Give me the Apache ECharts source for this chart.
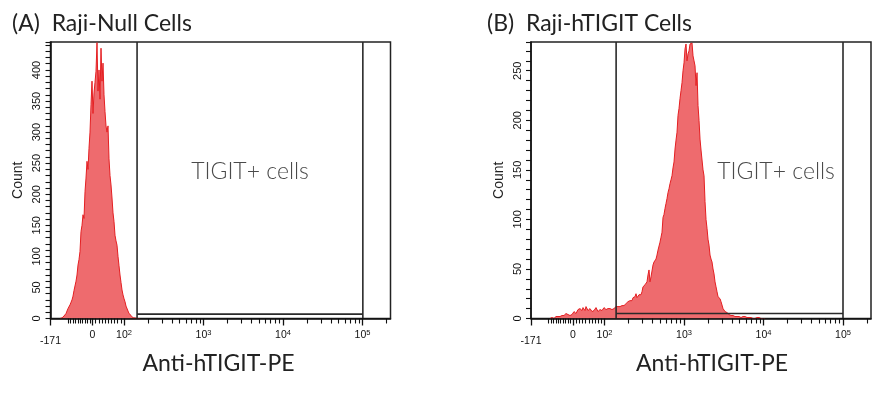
<!DOCTYPE html>
<html><head><meta charset="utf-8">
<script src="https://cdn.jsdelivr.net/npm/echarts@6/dist/echarts.min.js"></script>
<style>html,body{margin:0;padding:0;background:#fff}#c{width:895px;height:394px}</style>
</head><body><div id="c"></div>
<script>
// ---------- texts ----------
const panelTitles = ['(A)  Raji-Null Cells', '(B)  Raji-hTIGIT Cells'];
const gateLabel = 'TIGIT+ cells';
const xAxisName = 'Anti-hTIGIT-PE';
const yAxisName = 'Count';

// ---------- x axis (biexponential display of PE fluorescence) ----------
const xMinValue = -171;
const xMaxValue = 225000;
const xMajorValues = [-171, 0, 100, 1000, 10000, 100000];
const xMajorLabels = ['-171', '0', '10|2', '10|3', '10|4', '10|5'];
const xMinorValues = [-100, -90, -80, -70, -60, -50, -40, -30, -20, -10,
  10, 20, 30, 40, 50, 60, 70, 80, 90,
  200, 300, 400, 500, 600, 700, 800, 900,
  2000, 3000, 4000, 5000, 6000, 7000, 8000, 9000,
  20000, 30000, 40000, 50000, 60000, 70000, 80000, 90000, 200000];
// linear-region anchors of the display transform (value -> display decade units)
const linAnchorValues = [-171, 0, 100];
const linAnchorDisplay = [1.0755, 1.604, 2];

// ---------- y axes ----------
const yMaxA = 445, yMaxB = 279;
const yLabelsA = [0, 50, 100, 150, 200, 250, 300, 350, 400];
const yLabelsB = [0, 50, 100, 150, 200, 250];

// ---------- gates ----------
const gateLowA = 146, gateHighA = 101000, gateBarA = 7;
const gateLowB = 140, gateHighB = 100000, gateBarB = 5;

// ---------- histograms (display bins, width in decade units) ----------
const binWidth = 0.01258;
const histStartA = 1.195;
const histCountsA = [
  0,0,1,2,4,5,8,12,16,18,
  22,26,30,36,45,48,60,70,86,95,
  108,140,150,167,161,204,226,253,240,274,
  300,344,382,330,363,380,398,444,366,400,
  353,435,382,411,360,333,310,300,310,257,
  230,215,194,170,156,134,125,118,100,85,
  70,58,46,38,32,27,20,19,12,8,
  6,5,3,1,2,1,0,0,1,0,
  0];
const histStartB = 1.3145;
const histCountsB = [
  0,0,1,1,0,1,2,1,2,3,
  2,4,3,5,3,4,5,6,4,5,
  3,2,4,6,7,7,5,7,9,8,
  10,9,8,11,9,8,12,10,8,9,
  10,8,7,9,8,8,11,9,7,8,
  9,7,8,10,11,11,9,8,10,9,
  10,11,9,11,10,10,12,11,12,13,
  12,12,13,12,13,13,15,16,17,16,
  18,19,18,21,20,22,25,21,23,24,
  26,24,27,32,31,34,35,37,44,49,
  37,42,44,54,57,55,60,64,69,71,
  77,82,87,102,105,111,116,121,127,131,
  136,140,144,152,158,171,180,188,205,212,
  222,230,238,250,258,272,277,260,267,270,
  277,278,278,265,260,255,235,248,215,200,
  181,170,168,150,144,118,100,91,80,74,
  64,60,57,50,45,37,32,27,22,20,
  20,17,15,10,9,7,6,6,5,4,
  4,3,4,3,3,2,3,2,3,2,
  2,1,2,2,1,2,1,1,1,1,
  0,1,1,0,1,0,0,1,0,1,
  0,0,1,0,0,0];

// ---------- display transform ----------
function toDisplay(v) {
  if (v >= 100) return Math.log10(v);
  for (let i = 0; i < linAnchorValues.length - 1; i++) {
    const a = linAnchorValues[i], b = linAnchorValues[i + 1];
    if (v <= b || i === linAnchorValues.length - 2) {
      const t = (v - a) / (b - a);
      return linAnchorDisplay[i] + t * (linAnchorDisplay[i + 1] - linAnchorDisplay[i]);
    }
  }
}
const xMin = toDisplay(xMinValue), xMax = toDisplay(xMaxValue);
const majorPos = xMajorValues.map(toDisplay);
const minorPos = xMinorValues.map(toDisplay);

function labelFor(val) {
  let best = 0, bd = 1e9;
  majorPos.forEach((p, i) => { const d = Math.abs(p - val); if (d < bd) { bd = d; best = i; } });
  const s = xMajorLabels[best];
  if (best === 0) return '{low|' + s + '}';
  if (s.indexOf('|') >= 0) { const [b, e] = s.split('|'); return '{b|' + b + '}{s|' + e + '}'; }
  return '{p|' + s + '}';
}

const tickFont = '"Liberation Sans", Arial, sans-serif';
const rich = {
  b: { fontSize: 10.5, lineHeight: 12, verticalAlign: 'bottom', fontFamily: tickFont, color: '#111' },
  s: { fontSize: 7.5, lineHeight: 8, verticalAlign: 'top', padding: [0, 0, 9, 0], fontFamily: tickFont, color: '#111' },
  p: { fontSize: 10.5, lineHeight: 12, verticalAlign: 'bottom', padding: [5, 0, 0, 0], fontFamily: tickFont, color: '#111' },
  low: { fontSize: 10.5, lineHeight: 12, padding: [13.5, 0, 0, 0], fontFamily: tickFont, color: '#111' }
};

const grids = [
  { left: 50.5, top: 42, width: 340, height: 276.5 },
  { left: 531, top: 42, width: 340, height: 276.5 }
];
const panels = [
  { yMax: yMaxA, yLabels: yLabelsA, start: histStartA, counts: histCountsA, gL: gateLowA, gH: gateHighA, gB: gateBarA, namePad: [0, 4, 0, 0] },
  { yMax: yMaxB, yLabels: yLabelsB, start: histStartB, counts: histCountsB, gL: gateLowB, gH: gateHighB, gB: gateBarB, namePad: [0, 0, 0, 22] }
];

const xAxes = [], yAxes = [], series = [];
panels.forEach((pn, i) => {
  grids[i].show = true; grids[i].borderColor = '#222'; grids[i].borderWidth = 1.5;
  xAxes.push({
    type: 'value', gridIndex: i, position: 'bottom', min: xMin, max: xMax, z: 10,
    axisLine: { show: true, onZero: false, lineStyle: { color: '#111', width: 1.5 } },
    axisTick: { show: true, length: 7, customValues: majorPos, lineStyle: { color: '#111', width: 1.3 } },
    axisLabel: { show: true, customValues: majorPos, margin: 10, formatter: labelFor, rich: rich },
    splitLine: { show: false },
    name: xAxisName, nameLocation: 'middle', nameGap: 24,
    nameTextStyle: { fontFamily: 'Lato', fontSize: 23, color: '#222', padding: pn.namePad }
  });
  xAxes.push({
    type: 'value', gridIndex: i, position: 'bottom', min: xMin, max: xMax, z: 10,
    axisLine: { show: false },
    axisTick: { show: true, length: 5, customValues: minorPos, lineStyle: { color: '#111', width: 1.1 } },
    axisLabel: { show: false }, splitLine: { show: false }
  });
  yAxes.push({
    type: 'value', gridIndex: i, min: 0, max: pn.yMax, interval: 10, z: 10,
    axisLine: { show: true, lineStyle: { color: '#111', width: 1.5 } },
    axisTick: { show: true, length: 5, lineStyle: { color: '#111', width: 1.1 } },
    axisLabel: { show: true, customValues: pn.yLabels, rotate: 90, margin: 8, fontSize: 11, fontFamily: tickFont, color: '#111' },
    splitLine: { show: false },
    name: yAxisName, nameLocation: 'middle', nameRotate: 90, nameGap: 25,
    nameTextStyle: { fontFamily: tickFont, fontSize: 14, color: '#222' }
  });
  series.push({
    type: 'line', xAxisIndex: i * 2, yAxisIndex: i, showSymbol: false, symbol: 'none', z: 2,
    data: pn.counts.map((c, k) => [pn.start + k * binWidth, c]),
    lineStyle: { color: '#e41f22', width: 1 },
    areaStyle: { color: '#ee6b6e', opacity: 1 },
    silent: true, animation: false
  });
  const L = toDisplay(pn.gL), H = toDisplay(pn.gH);
  series.push({
    type: 'lines', coordinateSystem: 'cartesian2d', xAxisIndex: i * 2, yAxisIndex: i, polyline: true, z: 4,
    data: [
      { coords: [[L, pn.yMax], [L, 0]] },
      { coords: [[L, pn.gB], [H, pn.gB]] },
      { coords: [[H, pn.yMax], [H, 0]] }
    ],
    lineStyle: { color: '#2a2a2a', width: 1.6, opacity: 1 },
    silent: true, animation: false
  });
});

const chart = echarts.init(document.getElementById('c'), null, { renderer: 'canvas' });
chart.setOption({
  animation: false,
  backgroundColor: '#fff',
  grid: grids, xAxis: xAxes, yAxis: yAxes, series: series,
  graphic: [
    { type: 'text', x: 12, y: 23.5, style: { text: panelTitles[0], font: '23px Lato', fill: '#222', textVerticalAlign: 'middle' } },
    { type: 'text', x: 487, y: 23.5, style: { text: panelTitles[1], font: '23px Lato', fill: '#222', textVerticalAlign: 'middle' } },
    { type: 'text', x: 250, y: 172, style: { text: gateLabel, font: '300 23px Lato', fill: '#4a4a4a', textAlign: 'center', textVerticalAlign: 'middle' } },
    { type: 'text', x: 776, y: 172, style: { text: gateLabel, font: '300 23px Lato', fill: '#4a4a4a', textAlign: 'center', textVerticalAlign: 'middle' } }
  ]
});
</script></body></html>
